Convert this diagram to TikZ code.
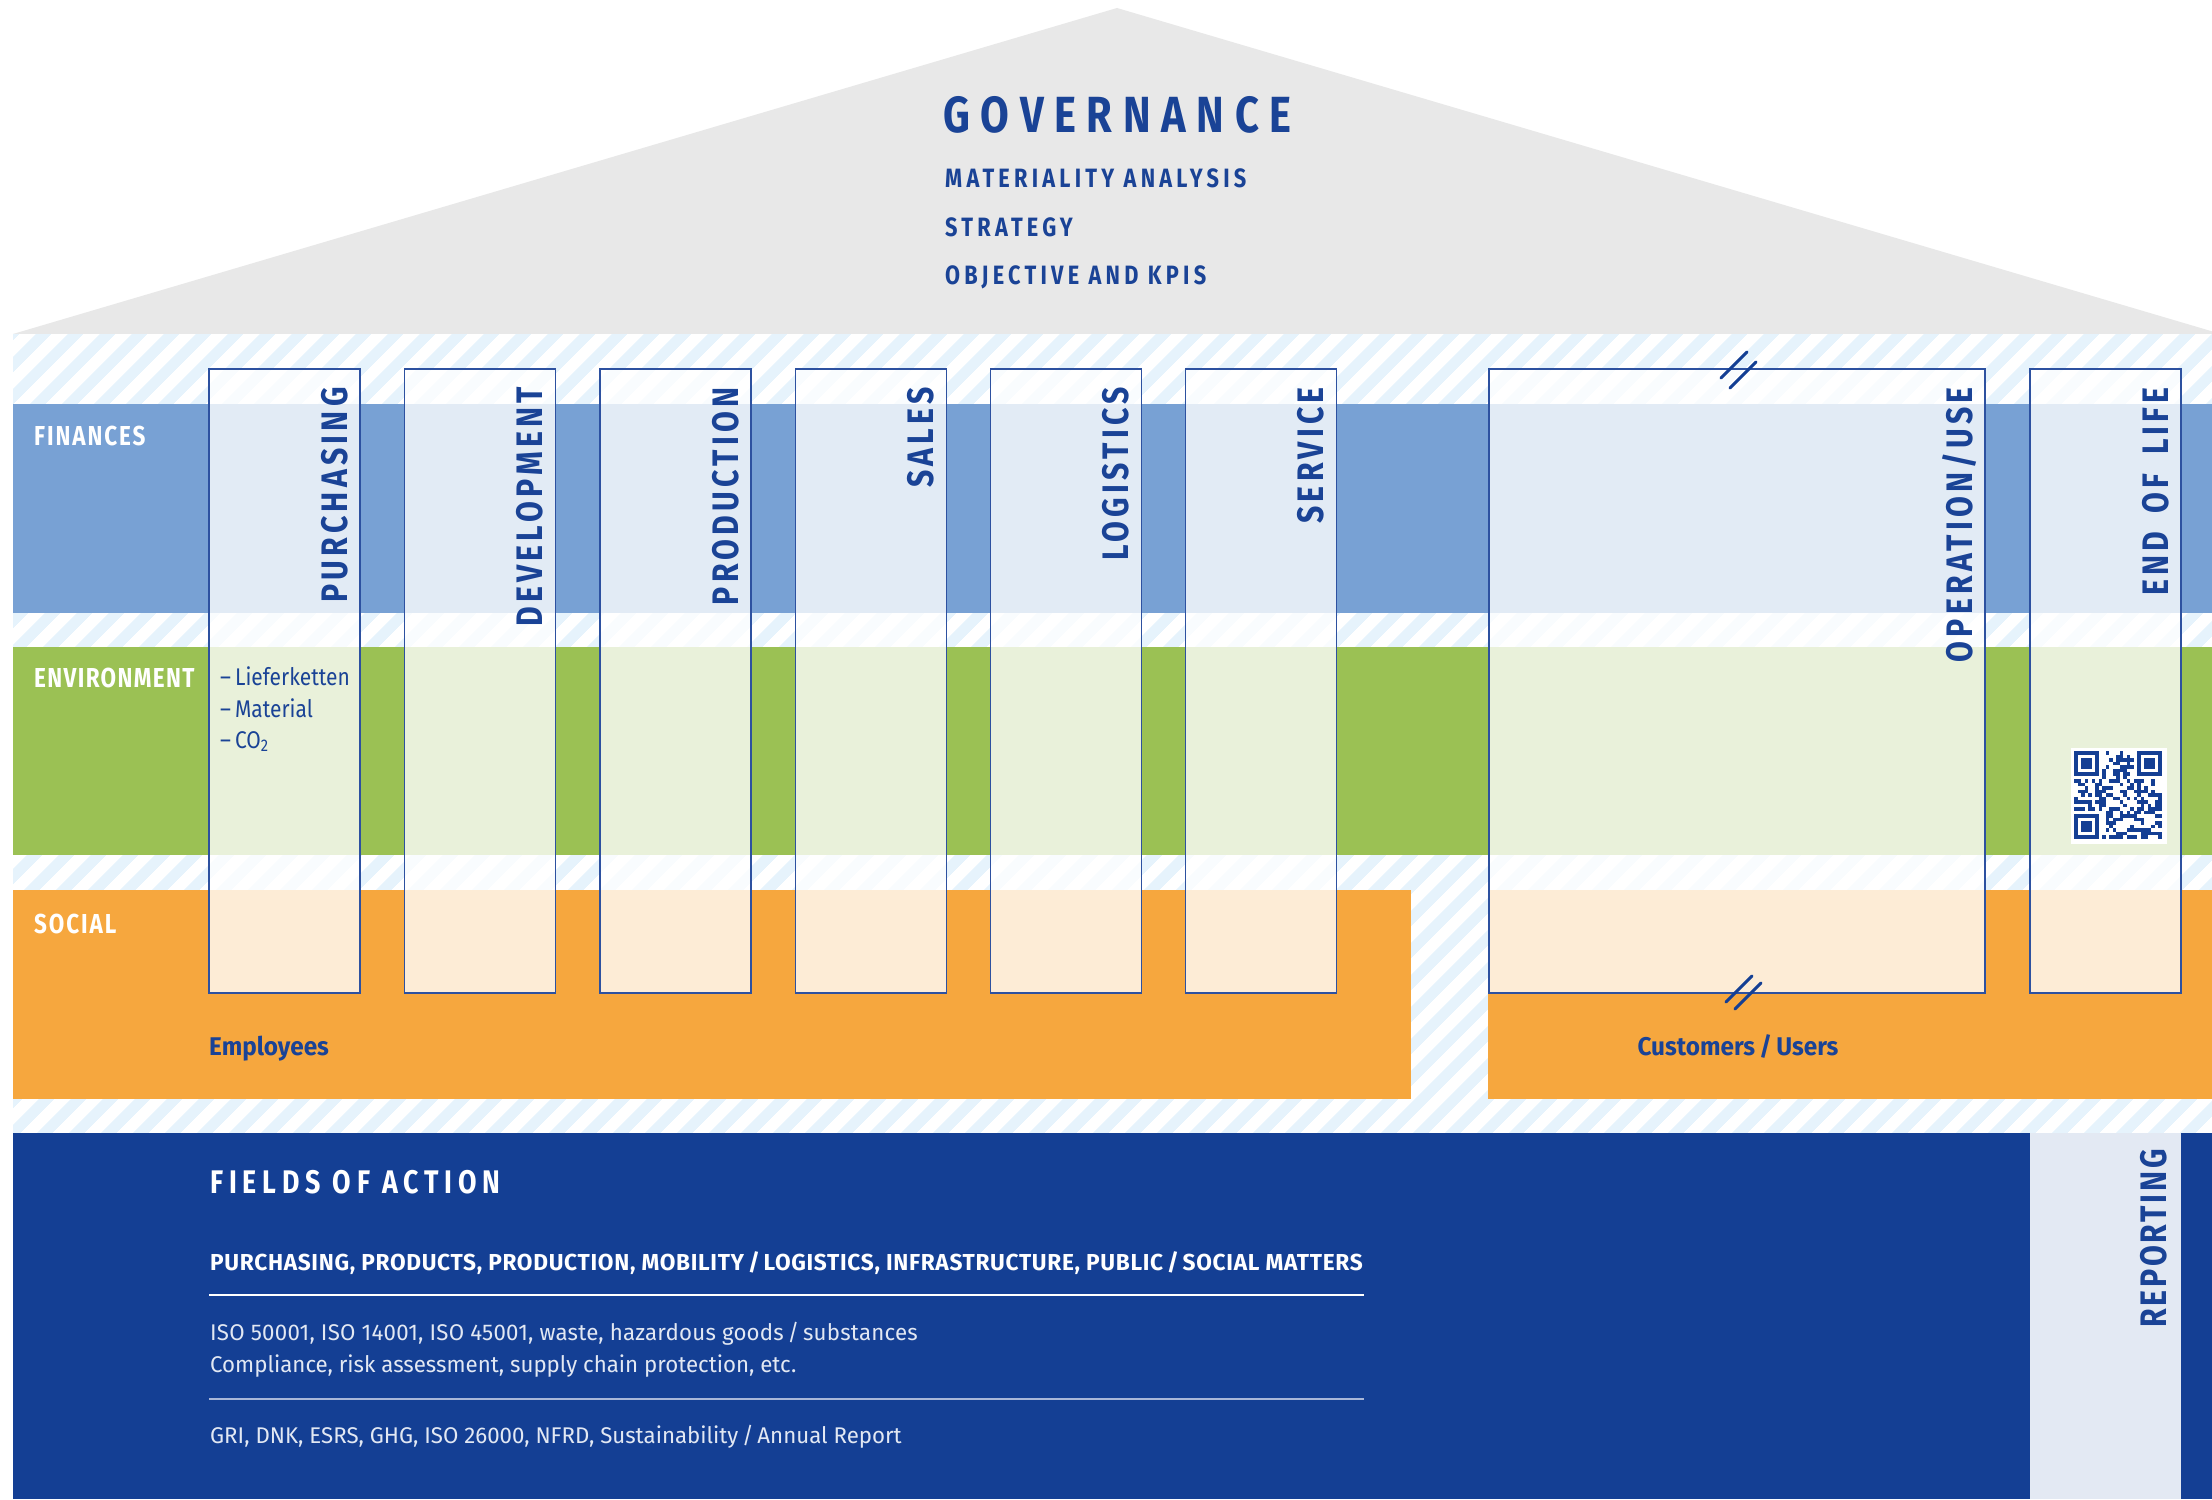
\documentclass[tikz,border=0pt]{standalone}
\usepackage{fontspec}
\setmainfont{Fira Sans}
\newfontfamily\cf{Fira Sans}[FakeStretch=0.82]
\newfontfamily\cm{Fira Sans}[FakeStretch=0.87]
\newfontfamily\cn{Fira Sans}[FakeStretch=0.95]
\newfontfamily\cw{Fira Sans}[FakeStretch=0.98]
\usetikzlibrary{patterns.meta}
\definecolor{dkblue}{HTML}{143F94}
\definecolor{txtblue}{HTML}{1A4396}
\definecolor{roofgray}{HTML}{E8E8E8}
\definecolor{hatchc}{HTML}{E6F3FC}
\definecolor{finblue}{HTML}{78A1D4}
\definecolor{envgreen}{HTML}{9BC154}
\definecolor{socorange}{HTML}{F6A73E}
\definecolor{repcol}{HTML}{E3E9F3}
\definecolor{boxline}{HTML}{2D51A0}
\definecolor{softwhite}{HTML}{E2E8F3}
\definecolor{rulegray}{HTML}{A9B7D8}
\newcommand\fb[3][\cf]{\fontsize{#2}{#2}\selectfont#1\bfseries\addfontfeature{LetterSpace=#3}}
\newcommand\fr[3][\cf]{\fontsize{#2}{#2}\selectfont#1\addfontfeature{LetterSpace=#3}}
\tikzset{
  colbox/.style={draw=boxline, line width=1.6bp, fill=white, fill opacity=0.79,
    minimum height=624bp, anchor=north west, inner sep=0, outer sep=0},
  vlbl/.style={rotate=90, anchor=base east, inner sep=0, text=txtblue, font={\fb{37}{11.5}}},
  txt/.style={anchor=base west, inner sep=0},
  bandlbl/.style={txt, text=white, font={\fb{27.5}{7}}},
  brk/.style={draw=dkblue, line width=3bp, line cap=round},
}
\begin{document}
\begin{tikzpicture}[x=1bp,y=-1bp]
\useasboundingbox (0,0) rectangle (2212,1499);
\fill[white] (0,0) rectangle (2212,1499);
% roof
\fill[roofgray] (13,334) -- (1117,8) -- (2221,334) -- cycle;
% hatched body
\fill[white] (13,334) rectangle (2212,1133);
\fill[pattern={Lines[angle=45,distance=22.6bp,line width=11bp]}, pattern color=hatchc] (13,334) rectangle (2212,1133);
% bands
\fill[finblue] (13,404) rectangle (2212,613);
\fill[envgreen] (13,647) rectangle (2212,855);
\fill[socorange] (13,890) rectangle (1411,1099);
\fill[socorange] (1488,890) rectangle (2212,1099);
% bottom
\fill[dkblue] (13,1133) rectangle (2212,1499);
\fill[repcol] (2030,1133) rectangle (2181,1499);

% governance texts
\node[txt, text=txtblue, font={\fb{51}{21}}] (gov) at (943,133) {GOVERNANCE};
\node[txt, text=txtblue, font={\fb{26.6}{16}}] (mat) at (945,188) {MATERIALITY ANALYSIS};
\node[txt, text=txtblue, font={\fb{26.6}{16}}] (strat) at (945,236) {STRATEGY};
\node[txt, text=txtblue, font={\fb{26.6}{16}}] (obj) at (945,284) {OBJECTIVE AND KPIS};

% band labels
\node[bandlbl] (fin) at (34,445) {FINANCES};
\node[bandlbl, font={\fb{27.5}{5}}] (env) at (34,687) {ENVIRONMENT};
\node[bandlbl] (soc) at (34,933) {SOCIAL};

% columns
\node[colbox, minimum width=151bp] (purch) at (209,369) {};
\node[colbox, minimum width=151bp] (dev) at (404.5,369) {};
\node[colbox, minimum width=151bp] (prod) at (600,369) {};
\node[colbox, minimum width=151bp] (sales) at (795.5,369) {};
\node[colbox, minimum width=151bp] (logi) at (990.5,369) {};
\node[colbox, minimum width=151bp] (serv) at (1185.5,369) {};
\node[colbox, minimum width=496bp] (oper) at (1489,369) {};
\node[colbox, minimum width=151bp] (eol) at (2030,369) {};

% vertical labels
\node[vlbl] (lpurch) at ([xshift=-13bp,yshift=-18bp]purch.north east) {PURCHASING};
\node[vlbl] (ldev) at ([xshift=-13bp,yshift=-18bp]dev.north east) {DEVELOPMENT};
\node[vlbl] (lprod) at ([xshift=-13bp,yshift=-18bp]prod.north east) {PRODUCTION};
\node[vlbl] (lsales) at ([xshift=-13bp,yshift=-18bp]sales.north east) {SALES};
\node[vlbl] (llogi) at ([xshift=-13bp,yshift=-18bp]logi.north east) {LOGISTICS};
\node[vlbl] (lserv) at ([xshift=-13bp,yshift=-18bp]serv.north east) {SERVICE};
\node[vlbl] (loper) at ([xshift=-13bp,yshift=-18bp]oper.north east) {OPERATION/USE};
\node[vlbl] (leol) at ([xshift=-13bp,yshift=-18bp]eol.north east) {END\hspace{7bp} OF\hspace{7bp} LIFE};
\node[vlbl, font={\fb{37}{7.5}}] (lrep) at (2166,1149) {REPORTING};

% break marks on operation box
\draw[brk] (1721,378) -- (1747,352);
\draw[brk] (1730,388) -- (1756,362);
\draw[brk] (1726,1002) -- (1752,976);
\draw[brk] (1735,1009) -- (1761,983);

% environment list
\node[txt, text=txtblue, font={\fr[\cm]{24.2}{0}}] (l1) at (220,685) {–\,Lieferketten};
\node[txt, text=txtblue, font={\fr[\cm]{24.2}{0}}] (l2) at (220,717) {–\,Material};
\node[txt, text=txtblue, font={\fr[\cm]{24.2}{0}}] (l3) at (220,748) {–\,CO\textsubscript{2}};

% social labels
\node[txt, text=txtblue, font={\fb[\cn]{25.7}{0}}] (emp) at (209,1055) {Employees};
\node[anchor=base, inner sep=0, text=txtblue, font={\fb[\cn]{25.7}{0}}] (cust) at (1738,1055) {Customers\,/\,Users};

% QR code
\begin{scope}[shift={(2074,751)}]
  \fill[white] (-3,-3) rectangle (93,93);
  \foreach \ox/\oy in {0/0,63/0,0/63}{
    \fill[dkblue] (\ox,\oy) rectangle ++(24.5,24.5);
    \fill[white] (\ox+3.5,\oy+3.5) rectangle ++(17.5,17.5);
    \fill[dkblue] (\ox+7,\oy+7) rectangle ++(10.5,10.5);
  }
  \pgfmathsetseed{4711}
  \foreach \i in {0,...,24}{
    \foreach \j in {0,...,24}{
      \pgfmathtruncatemacro{\qin}{((\i<8)&&(\j<8))||((\i>16)&&(\j<8))||((\i<8)&&(\j>16))}
      \pgfmathtruncatemacro{\qon}{rnd<0.5}
      \ifnum\qin=0 \ifnum\qon=1 \fill[dkblue] (\i*3.5,\j*3.5) rectangle ++(3.5,3.5); \fi\fi
    }
  }
\end{scope}

% fields of action
\node[txt, text=white, font={\fb{32.8}{17.7}}] (foa) at (210,1193) {FIELDS OF ACTION};
\node[txt, text=white, font={\fb[\cw]{23.2}{3}}] (foa1) at (210,1270) {PURCHASING, PRODUCTS, PRODUCTION, MOBILITY\,/\,LOGISTICS, INFRASTRUCTURE, PUBLIC\,/\,SOCIAL MATTERS};
\coordinate (r1a) at (209,1295);
\coordinate (r1b) at (1364,1295);
\draw[white, line width=2bp] (r1a) -- (r1b);
\node[txt, text=softwhite, font={\fr[\cw]{22.8}{1}}] (iso) at (210,1340) {ISO 50001, ISO 14001, ISO 45001, waste, hazardous goods\,/\,substances};
\node[txt, text=softwhite, font={\fr[\cw]{22.8}{0}}] (comp) at (210,1372) {Compliance, risk assessment, supply chain protection, etc.};
\coordinate (r2a) at (209,1399);
\coordinate (r2b) at (1364,1399);
\draw[rulegray, line width=2.5bp] (r2a) -- (r2b);
\node[txt, text=softwhite, font={\fr[\cw]{22.8}{0}}] (gri) at (210,1443) {GRI, DNK, ESRS, GHG, ISO 26000, NFRD, Sustainability\,/\,Annual Report};
\end{tikzpicture}
\end{document}
